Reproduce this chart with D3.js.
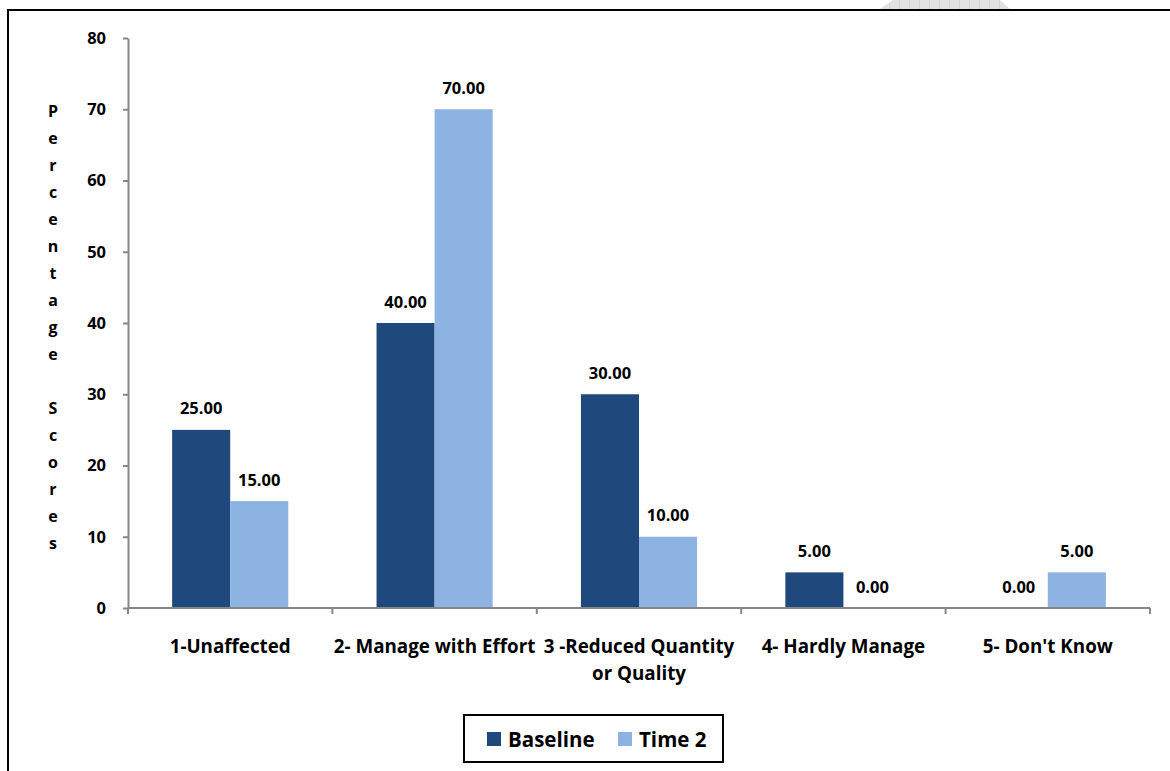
<!DOCTYPE html>
<html>
<head>
<meta charset="utf-8">
<script src="https://cdn.jsdelivr.net/npm/d3@7"></script>
<style>
  html, body { margin: 0; padding: 0; background: #fff; }
  svg { display: block; font-family: "Open Sans", "Noto Sans", sans-serif; font-weight: bold; }
</style>
</head>
<body>
<svg id="chart" width="1170" height="771"></svg>
<script>
// Response categories (each may wrap onto several lines)
const categories = [
  ["1-Unaffected"],
  ["2- Manage with Effort"],
  ["3 -Reduced Quantity", "or Quality"],
  ["4- Hardly Manage"],
  ["5- Don't Know"]
];
const seriesNames = ["Baseline", "Time 2"];
const baselineValues = [25, 40, 30, 5, 0];
const time2Values = [15, 70, 10, 0, 5];
const yTicks = [0, 10, 20, 30, 40, 50, 60, 70, 80];
const yTitle = "Percentage Scores";
const colors = { "Baseline": "#1F497D", "Time 2": "#8DB3E2" };

const svg = d3.select("#chart");
const catKeys = categories.map(c => c.join(" "));
const seriesValues = { "Baseline": baselineValues, "Time 2": time2Values };

// Faint graph-paper strip behind the frame, top right
const defs = svg.append("defs");
const pat = defs.append("pattern").attr("id", "grid").attr("patternUnits", "userSpaceOnUse")
  .attr("width", 10).attr("height", 10);
pat.append("rect").attr("width", 10).attr("height", 10).attr("fill", "#e2e2e2");
pat.append("path").attr("d", "M10 0V10M0 10H10").attr("stroke", "#c4c4c4").attr("stroke-width", 1);
svg.append("polygon").attr("points", "893,0 1000,0 1010,9 880,9").attr("fill", "url(#grid)");

// Outer chart frame
svg.append("rect").attr("x", 8).attr("y", 10).attr("width", 1200).attr("height", 800)
  .attr("fill", "none").attr("stroke", "#000").attr("stroke-width", 2);

const x0 = d3.scaleBand().domain(catKeys).range([128, 1150]).paddingInner(0).paddingOuter(0);
const x1 = d3.scaleBand().domain(seriesNames).range([0, x0.bandwidth()]).paddingInner(0).paddingOuter(0.76);
const y = d3.scaleLinear().domain([0, 80]).range([608, 38]);

// Y axis
const yAxis = svg.append("g").attr("transform", "translate(128,0)")
  .call(d3.axisLeft(y).tickValues(yTicks).tickSize(5).tickSizeOuter(0).tickPadding(17));
yAxis.select(".domain").attr("stroke", "#868686").attr("stroke-width", 2);
yAxis.selectAll(".tick line").attr("stroke", "#868686").attr("stroke-width", 2);
yAxis.selectAll(".tick text").attr("fill", "#000").style("font-size", "16.5px").style("font-weight", "bold")
  .style("font-family", "'Open Sans', sans-serif");

// Y title, one letter per line
const letters = yTitle.split("");
svg.append("g").selectAll("text").data(letters).join("text")
  .attr("x", 53).attr("y", (d, i) => 111 + i * 27)
  .attr("text-anchor", "middle").attr("dominant-baseline", "central")
  .style("font-size", "16px").text(d => d);

// Bars
const groups = svg.append("g").selectAll("g").data(catKeys).join("g")
  .attr("transform", d => `translate(${x0(d)},0)`);
groups.selectAll("rect").data((d, i) => seriesNames.map(s => ({ s, v: seriesValues[s][i] })))
  .join("rect")
  .attr("x", d => x1(d.s)).attr("width", x1.bandwidth())
  .attr("y", d => y(d.v)).attr("height", d => y(0) - y(d.v))
  .attr("fill", d => colors[d.s]);
groups.selectAll("text").data((d, i) => seriesNames.map(s => ({ s, v: seriesValues[s][i] })))
  .join("text")
  .attr("x", d => x1(d.s) + x1.bandwidth() / 2).attr("y", d => y(d.v) - 22)
  .attr("text-anchor", "middle").attr("dominant-baseline", "central")
  .style("font-size", "16.5px").text(d => d.v.toFixed(2));

// X axis line and category boundary ticks
const xAxis = svg.append("g").attr("transform", "translate(0,608)");
xAxis.append("line").attr("x1", x0.range()[0]).attr("x2", x0.range()[1])
  .attr("stroke", "#868686").attr("stroke-width", 2);
const bounds = catKeys.map(c => x0(c)).concat([x0.range()[1]]);
xAxis.selectAll(".bt").data(bounds).join("line").attr("class", "bt")
  .attr("x1", d => d).attr("x2", d => d).attr("y1", 0).attr("y2", 6)
  .attr("stroke", "#868686").attr("stroke-width", 2);

// Category labels
const lab = svg.append("g").selectAll("text").data(categories).join("text")
  .attr("text-anchor", "middle").style("font-size", "18.8px");
lab.each(function(lines, i) {
  const cx = x0(catKeys[i]) + x0.bandwidth() / 2;
  d3.select(this).selectAll("tspan").data(lines).join("tspan")
    .attr("x", cx).attr("y", (d, j) => 646 + j * 27)
    .attr("dominant-baseline", "central").text(d => d);
});

// Legend
const legend = svg.append("g");
legend.append("rect").attr("x", 464).attr("y", 715).attr("width", 259).attr("height", 47)
  .attr("fill", "#fff").attr("stroke", "#000").attr("stroke-width", 2);
const legendX = { "Baseline": 487, "Time 2": 618 };
seriesNames.forEach(s => {
  legend.append("rect").attr("x", legendX[s]).attr("y", 732).attr("width", 14).attr("height", 14)
    .attr("fill", colors[s]);
  legend.append("text").attr("x", legendX[s] + 21).attr("y", 739)
    .attr("dominant-baseline", "central").style("font-size", "20.5px").text(s);
});
</script>
</body>
</html>
